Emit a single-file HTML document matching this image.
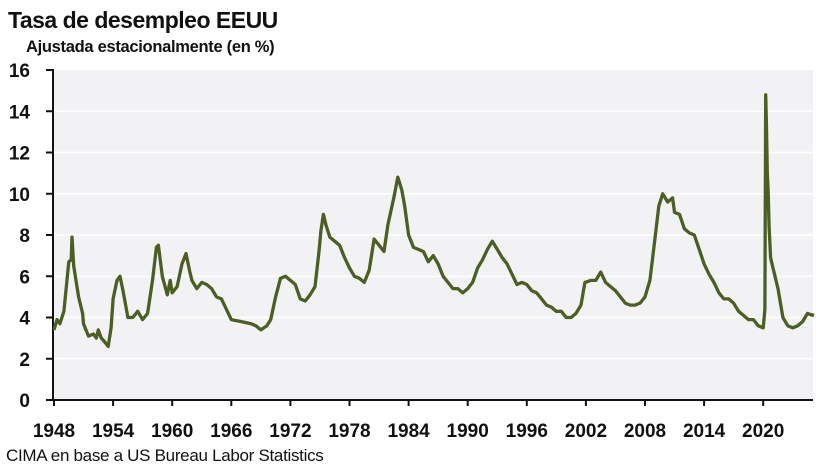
<!DOCTYPE html>
<html><head><meta charset="utf-8"><style>
body{margin:0;background:#fff;}
svg{display:block;font-family:"Liberation Sans",sans-serif;}
</style></head><body>
<svg id="c" width="827" height="473" viewBox="0 0 827 473" xmlns="http://www.w3.org/2000/svg">
<text x="8" y="28" font-size="23" font-weight="bold" fill="#111" letter-spacing="-0.5">Tasa de desempleo EEUU</text>
<text x="26" y="52" font-size="16.5" font-weight="bold" fill="#111" letter-spacing="-0.3">Ajustada estacionalmente (en %)</text>
<rect x="54" y="70" width="759" height="330" fill="#f2f2f4"/>
<g id="grid" stroke="#fff" stroke-width="1.5"></g>
<g id="ylab" font-size="19" font-weight="bold" fill="#111" text-anchor="end"></g>
<g id="xlab" font-size="19" font-weight="bold" fill="#111" text-anchor="middle"></g>
<line x1="53" y1="69" x2="53" y2="401" stroke="#111" stroke-width="2"/>
<line x1="46" y1="400" x2="813" y2="400" stroke="#111" stroke-width="2"/>
<polyline id="ln" fill="none" stroke="#4b5e24" stroke-width="3.3" stroke-linejoin="round"/>
<text x="6" y="461" font-size="17" fill="#111" letter-spacing="-0.3">CIMA en base a US Bureau Labor Statistics</text>
</svg>
<script>
var ns="http://www.w3.org/2000/svg";
function X(y){return 54+(y-1948)*9.85;}
function Y(v){return 400-v*20.625;}
function el(p,t,a,txt){var e=document.createElementNS(ns,t);for(var k in a)e.setAttribute(k,a[k]);if(txt!=null)e.textContent=txt;document.getElementById(p).appendChild(e);}
for(var v=0;v<=16;v+=2){var y=Y(v);if(v>0&&v<16)el("grid","line",{x1:54,x2:813,y1:y,y2:y});
el("ylab","line",{x1:46,x2:53,y1:y,y2:y,stroke:"#111","stroke-width":2});
el("ylab","text",{x:30,y:y+7},String(v));}
for(var yr=1948;yr<=2020;yr+=6){var x=X(yr);el("xlab","line",{x1:x,x2:x,y1:400,y2:406,stroke:"#111","stroke-width":2});el("xlab","text",{x:x,y:437},String(yr));}
var d=[1948.0,3.4,1948.3,3.9,1948.6,3.7,1949.0,4.3,1949.5,6.7,1949.75,6.8,1949.83,7.9,1950.0,6.5,1950.5,5.0,1950.9,4.2,1951.0,3.7,1951.5,3.1,1952.0,3.2,1952.3,3.0,1952.5,3.4,1952.8,3.0,1953.0,2.9,1953.5,2.6,1953.8,3.5,1954.0,4.9,1954.4,5.8,1954.7,6.0,1955.0,5.3,1955.5,4.0,1956.0,4.0,1956.5,4.3,1957.0,3.9,1957.5,4.2,1958.0,5.8,1958.4,7.4,1958.6,7.5,1959.0,6.0,1959.5,5.1,1959.8,5.8,1960.0,5.2,1960.5,5.5,1961.0,6.6,1961.4,7.1,1961.8,6.2,1962.0,5.8,1962.5,5.4,1963.0,5.7,1963.5,5.6,1964.0,5.4,1964.5,5.0,1965.0,4.9,1965.5,4.4,1966.0,3.9,1967.0,3.8,1968.0,3.7,1968.5,3.6,1969.0,3.4,1969.6,3.6,1970.0,3.9,1970.5,5.0,1971.0,5.9,1971.5,6.0,1972.0,5.8,1972.5,5.6,1973.0,4.9,1973.5,4.8,1974.0,5.1,1974.5,5.5,1974.9,7.2,1975.1,8.2,1975.35,9.0,1975.6,8.5,1976.0,7.9,1976.5,7.7,1977.0,7.5,1977.5,6.9,1978.0,6.4,1978.5,6.0,1979.0,5.9,1979.5,5.7,1980.0,6.3,1980.5,7.8,1981.0,7.5,1981.5,7.2,1981.9,8.5,1982.5,9.8,1982.9,10.8,1983.3,10.2,1983.6,9.4,1984.0,8.0,1984.5,7.4,1985.0,7.3,1985.5,7.2,1986.0,6.7,1986.5,7.0,1987.0,6.6,1987.5,6.0,1988.0,5.7,1988.5,5.4,1989.0,5.4,1989.5,5.2,1990.0,5.4,1990.5,5.7,1991.0,6.4,1991.5,6.8,1992.0,7.3,1992.5,7.7,1993.0,7.3,1993.5,6.9,1994.0,6.6,1994.5,6.1,1995.0,5.6,1995.5,5.7,1996.0,5.6,1996.5,5.3,1997.0,5.2,1997.5,4.9,1998.0,4.6,1998.5,4.5,1999.0,4.3,1999.5,4.3,2000.0,4.0,2000.5,4.0,2001.0,4.2,2001.5,4.6,2001.9,5.7,2002.5,5.8,2003.0,5.8,2003.5,6.2,2004.0,5.7,2004.5,5.5,2005.0,5.3,2005.5,5.0,2006.0,4.7,2006.5,4.6,2007.0,4.6,2007.5,4.7,2008.0,5.0,2008.5,5.8,2009.0,7.8,2009.4,9.4,2009.8,10.0,2010.3,9.6,2010.8,9.8,2011.0,9.1,2011.5,9.0,2012.0,8.3,2012.5,8.1,2013.0,8.0,2013.5,7.3,2014.0,6.6,2014.5,6.1,2015.0,5.7,2015.5,5.2,2016.0,4.9,2016.5,4.9,2017.0,4.7,2017.5,4.3,2018.0,4.1,2018.5,3.9,2019.0,3.9,2019.5,3.6,2020.0,3.5,2020.17,4.4,2020.25,14.8,2020.33,13.2,2020.42,11.0,2020.5,10.2,2020.6,8.4,2020.75,6.9,2021.0,6.4,2021.5,5.4,2022.0,4.0,2022.5,3.6,2023.0,3.5,2023.5,3.6,2024.0,3.8,2024.5,4.2,2025.0,4.1,2025.05,4.2];
var pts=[];for(var i=0;i<d.length;i+=2)pts.push(X(d[i]).toFixed(1)+","+Y(d[i+1]).toFixed(1));
document.getElementById("ln").setAttribute("points",pts.join(" "));
</script>
</body></html>
